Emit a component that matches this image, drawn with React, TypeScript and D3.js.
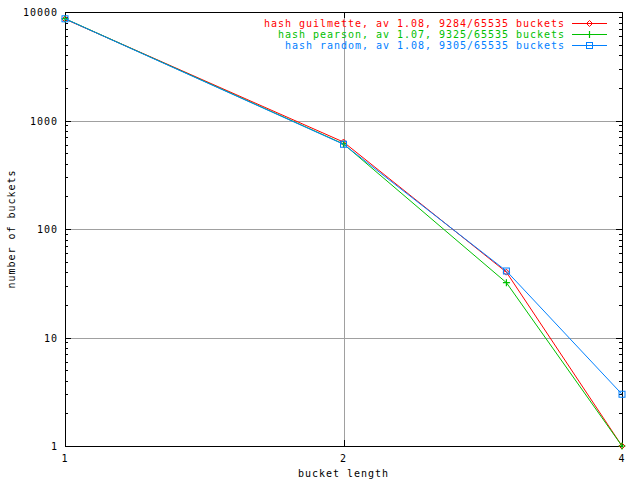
import React from "react";
import * as d3 from "d3";

const bucketLengths = [1, 2, 3, 4];
const guilmette = [8610, 633, 40, 1];
const pearson = [8684, 608, 32, 1];
const random = [8657, 604, 41, 3];
const seriesNames = [
  "hash guilmette, av 1.08, 9284/65535 buckets",
  "hash pearson, av 1.07, 9325/65535 buckets",
  "hash random, av 1.08, 9305/65535 buckets",
];
const seriesColors = ["#ff0000", "#00c000", "#0080ff"];
const xTicks = [1, 2, 4];
const yTicks = [1, 10, 100, 1000, 10000];

const W = 640, H = 480;
const L = 65, R = 622, T = 12, B = 446;
const FONT = "'DejaVu Sans Mono', monospace";
const FS = 10;
const LS = 0.98;

function Marker({ type, x, y, color }: { type: number; x: number; y: number; color: string }) {
  if (type === 0) {
    return <path d={`M${x - 3},${y}L${x},${y - 3}L${x + 3},${y}L${x},${y + 3}Z`} fill="none" stroke={color} strokeWidth={1} />;
  }
  if (type === 1) {
    return <path d={`M${x - 3.5},${y}H${x + 3.5}M${x},${y - 3.5}V${y + 3.5}`} stroke={color} strokeWidth={1.2} />;
  }
  return <rect x={x - 3} y={y - 3} width={6} height={6} fill="none" stroke={color} strokeWidth={1} />;
}

export default function App() {
  const x = d3.scaleLog().base(2).domain([1, 4]).range([L, R]);
  const y = d3.scaleLog().domain([1, 10000]).range([B, T]);
  const all = [guilmette, pearson, random];
  const line = d3
    .line<number>()
    .x((_, i) => x(bucketLengths[i]))
    .y((v) => y(v));

  const minor: number[] = [];
  for (let e = 0; e < 4; e++) for (let m = 2; m <= 9; m++) minor.push(m * Math.pow(10, e));

  return (
    <div style={{ position: "fixed", left: 0, top: 0 }}>
      <svg width={W} height={H} style={{ display: "block", background: "#fff" }}>
        <rect x={0} y={0} width={W} height={H} fill="#fff" />
        <g shapeRendering="crispEdges" stroke="#a0a0a0" strokeWidth={1}>
          {xTicks.slice(1, -1).map((t) => (
            <line key={"gx" + t} x1={Math.round(x(t)) + 0.5} x2={Math.round(x(t)) + 0.5} y1={T} y2={B} />
          ))}
          {yTicks.slice(1, -1).map((t) => (
            <line key={"gy" + t} x1={L} x2={R} y1={Math.round(y(t)) + 0.5} y2={Math.round(y(t)) + 0.5} />
          ))}
        </g>
        <g shapeRendering="crispEdges" stroke="#000" strokeWidth={1}>
          {yTicks.map((t) => {
            const yy = Math.round(y(t)) + 0.5;
            return (
              <g key={"ty" + t}>
                <line x1={L} x2={L + 6} y1={yy} y2={yy} />
                <line x1={R - 6} x2={R} y1={yy} y2={yy} />
              </g>
            );
          })}
          {minor.map((t) => {
            const yy = Math.round(y(t)) + 0.5;
            return (
              <g key={"my" + t}>
                <line x1={L} x2={L + 3} y1={yy} y2={yy} />
                <line x1={R - 3} x2={R} y1={yy} y2={yy} />
              </g>
            );
          })}
          {xTicks.map((t) => {
            const xx = Math.round(x(t)) + 0.5;
            return (
              <g key={"tx" + t}>
                <line x1={xx} x2={xx} y1={B} y2={B - 6} />
                <line x1={xx} x2={xx} y1={T} y2={T + 6} />
              </g>
            );
          })}
          <rect x={L + 0.5} y={T + 0.5} width={R - L} height={B - T} fill="none" />
        </g>
        <g fontFamily={FONT} fontSize={FS} letterSpacing={LS} fill="#000">
          {yTicks.map((t) => (
            <text key={"ly" + t} x={58} y={y(t) + 4} textAnchor="end">
              {String(t)}
            </text>
          ))}
          {xTicks.map((t) => (
            <text key={"lx" + t} x={x(t)} y={462} textAnchor="middle">
              {String(t)}
            </text>
          ))}
          <text x={(L + R) / 2} y={477} textAnchor="middle">bucket length</text>
          <text transform={`translate(15,${(T + B) / 2}) rotate(-90)`} textAnchor="middle">number of buckets</text>
        </g>
        {all.map((s, si) => (
          <g key={"s" + si}>
            <path d={line(s) || ""} fill="none" stroke={seriesColors[si]} strokeWidth={1} />
            {s.map((v, i) => (
              <Marker key={i} type={si} x={x(bucketLengths[i])} y={y(v)} color={seriesColors[si]} />
            ))}
          </g>
        ))}
        {seriesNames.map((n, si) => {
          const yy = 23 + si * 11;
          return (
            <g key={"lg" + si}>
              <text x={565} y={yy + 4} textAnchor="end" fill={seriesColors[si]} fontFamily={FONT} fontSize={FS} letterSpacing={LS}>{n}</text>
              <rect x={572} y={yy} width={35} height={1} fill={seriesColors[si]} />
              <Marker type={si} x={589.5} y={yy + 0.5} color={seriesColors[si]} />
            </g>
          );
        })}
      </svg>
    </div>
  );
}
